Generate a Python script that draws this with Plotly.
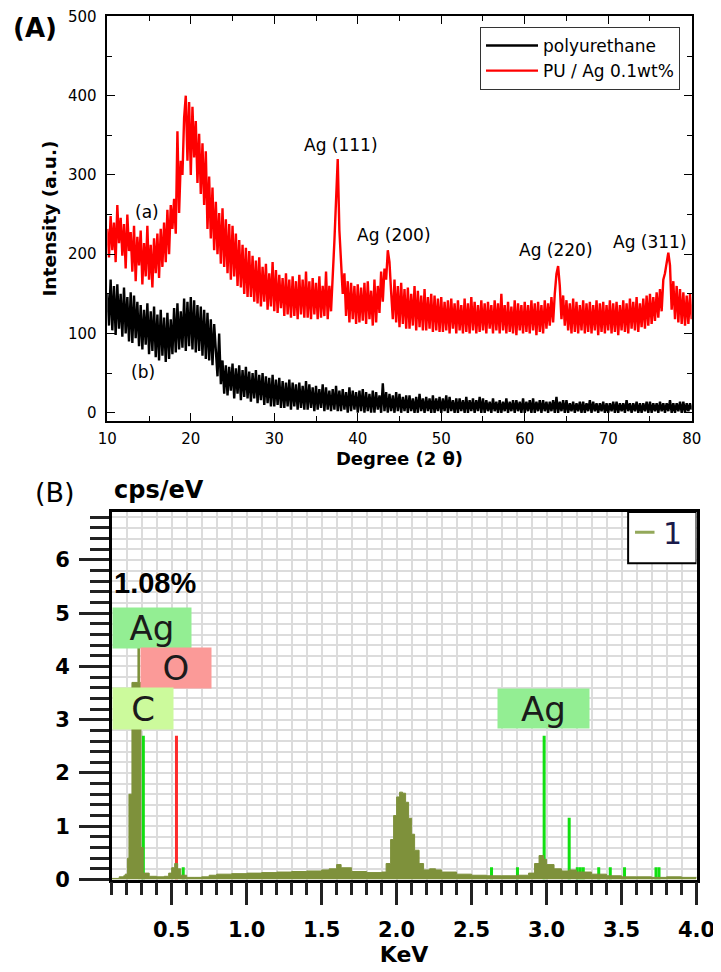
import plotly.graph_objects as go

# ---------------- (A) XRD data ----------------
SCAN_START = 10.0
SCAN_STEP = 0.2
pu_ag = [
    232, 196, 248, 205, 240,  190, 262, 214, 246, 198,  238, 182, 250, 204, 228,
    178, 236, 166, 222, 186,  230, 162, 214, 172, 236,  168, 212, 158, 220, 176,
    226, 170, 232, 184, 240,  190, 256, 200, 262, 232,  270, 226, 355, 252, 318,
    300, 372, 400, 318, 392,  300, 386, 322, 368, 290,  352, 276, 340, 262, 330,
    232, 298, 220, 284, 205,  266, 200, 252, 188, 258,  184, 244, 176, 238, 168,
    236, 172, 226, 160, 218,  158, 212, 150, 208, 146,  204, 146, 198, 140, 192,
    138, 196, 134, 184, 140,  188, 130, 176, 134, 190,  128, 180, 126, 174, 132,
    170, 122, 176, 124, 168,  120, 172, 122, 166, 118,  174, 124, 168, 120, 178,
    120, 166, 118, 170, 124,  164, 118, 172, 120, 160,  122, 178, 118, 160, 128,
    168, 216, 268, 320, 230,  196, 150, 176, 122, 166,  114, 164, 118, 160, 112,
    162, 114, 158, 116, 164,  112, 166, 118, 154, 110,  168, 114, 160, 126, 178,
    140, 182, 168, 205, 190,  152, 118, 168, 114, 160,  108, 164, 112, 156, 106,
    158, 106, 150, 110, 160,  104, 154, 108, 148, 104,  156, 104, 146, 106, 150,
    102, 148, 104, 144, 102,  146, 102, 140, 104, 142,  100, 144, 106, 138, 100,
    142, 104, 136, 100, 144,  102, 138, 100, 146, 104,  140, 100, 136, 102, 142,
    104, 138, 100, 140, 106,  136, 100, 142, 104, 138,  100, 150, 104, 136, 100,
    140, 102, 134, 100, 142,   98, 138, 104, 136, 100,  140, 102, 136, 100, 142,
    104, 138,  98, 140, 102,  136, 100, 142, 106, 138,  110, 146, 114, 150, 175,
    185, 160, 118, 148, 110,  142, 104, 138, 100, 144,  102, 140, 100, 136, 104,
    142, 100, 138, 102, 140,  100, 136, 104, 142,  98,  138, 102, 140, 100, 136,
    104, 142, 100, 138, 102,  140,  98, 136, 104, 142,  102, 138, 100, 144, 106,
    140, 104, 146, 102, 138,  108, 144, 106, 148, 110,  150, 112, 146, 116, 152,
    120, 156, 128, 168, 176,  190, 202, 186, 130, 166,  118, 160, 114, 156, 112,
    152, 110, 148, 112, 150,  118,
]
polyurethane = [
    150, 110, 168, 104, 160,   98, 162, 106, 150,  96,  158, 100, 146,  90, 152,
     88, 148,  94, 140,  84,  136,  80, 130,  86, 138,   74, 128,  78, 134,  70,
    124,  66, 130,  72, 120,   64, 126,  68, 118,  74,  132,  76, 138,  80, 128,
     82, 144,  78, 140,  84,  146,  80, 142,  76, 136,   78, 134,  72, 130,  68,
    126,  66, 118,  60, 112,   84,  46, 100,  36,  66,   24,  60,  22,  58,  28,
     62,  18,  56,  24,  60,   16,  54,  20,  58,  18,   52,  14,  50,  18,  54,
     12,  48,  16,  50,  10,   46,  12,  44,   8,  48,    8,  42,  10,  44,   6,
     40,   6,  38,   8,  42,    4,  38,   8,  36,   4,   38,   6,  34,   4,  40,
      4,  36,   6,  32,   2,   34,   4,  30,   6,  36,    2,  32,   4,  28,   2,
     30,   4,  34,   2,  28,    2,  30,   4,  26,   0,   32,   2,  28,   4,  26,
      0,  28,   2,  30,   0,   26,   2,  24,   0,  28,    0,  26,   4,  22,   0,
     37,   2,  26,   0,  24,    2,  22,   0,  26,   2,   24,   0,  20,   2,  22,
      0,  22,   2,  18,   0,   20,   0,  24,   2,  18,    0,  20,   2,  18,   0,
     22,   0,  18,   2,  20,    0,  18,   2,  22,   0,   20,   2,  16,   0,  18,
      0,  18,   2,  16,   0,   20,   0,  16,   2,  18,    0,  16,   2,  20,   0,
     18,   0,  16,   2,  14,    0,  18,   2,  14,   0,   16,   0,  14,   2,  18,
      0,  14,   2,  16,   0,   16,   2,  14,   0,  18,    0,  14,   2,  16,   0,
     18,   0,  14,   2,  16,    0,  16,   2,  14,   0,   14,   2,  16,   0,  20,
      0,  14,   2,  16,   0,   16,   0,  12,   2,  14,    0,  12,   2,  14,   0,
     14,   0,  12,   2,  16,    0,  14,   2,  12,   0,   12,   2,  14,   0,  12,
      0,  12,   2,  14,   0,   14,   0,  12,   2,  12,    0,  16,   2,  12,   0,
     12,   2,  14,   0,  12,    0,  12,   2,  14,   0,   14,   0,  12,   2,  12,
      0,  14,   2,  12,   0,   12,   2,  16,   0,  12,    0,  12,   2,  14,   0,
     14,   0,  12,   2,  12,    4,
]
two_theta = [round(SCAN_START + SCAN_STEP * i, 1) for i in range(len(pu_ag))]

peak_labels = ["Ag (111)", "Ag (200)", "Ag (220)", "Ag (311)", "(a)", "(b)"]
peak_label_x = [38.05, 44.3, 63.8, 74.95, 14.8, 14.3]
peak_label_y = [338, 224, 205, 216, 253, 51]

# ---------------- (B) EDS data ----------------
energy_kev = [0.10, 0.15, 0.18, 0.19, 0.205, 0.215, 0.235, 0.275, 0.285, 0.295, 0.31,
              0.35, 0.40, 0.45, 0.48, 0.50, 0.52, 0.54, 0.56, 0.60, 0.65, 0.70,
              0.75, 0.80, 0.90, 1.00, 1.10, 1.20, 1.30, 1.40, 1.50, 1.55, 1.60,
              1.63, 1.70, 1.80, 1.90, 1.93, 1.96, 1.98, 2.00, 2.02, 2.04, 2.06,
              2.08, 2.10, 2.12, 2.15, 2.18, 2.22, 2.26, 2.30, 2.40, 2.50, 2.60,
              2.70, 2.80, 2.88, 2.92, 2.95, 2.98, 3.00, 3.05, 3.10, 3.15, 3.20,
              3.30, 3.40, 3.50, 3.60, 3.70, 3.80, 3.90, 4.00]
counts = [0.02, 0.05, 0.07, 0.10, 0.40, 1.60, 3.70, 4.35, 3.70, 0.60, 0.12,
          0.06, 0.05, 0.06, 0.12, 0.22, 0.30, 0.20, 0.08, 0.04, 0.04, 0.05,
          0.08, 0.10, 0.11, 0.12, 0.13, 0.14, 0.15, 0.16, 0.18, 0.20, 0.28,
          0.22, 0.15, 0.13, 0.14, 0.30, 0.75, 1.20, 1.55, 1.64, 1.62, 1.45,
          1.15, 0.85, 0.55, 0.30, 0.18, 0.20, 0.18, 0.14, 0.10, 0.08, 0.07,
          0.07, 0.08, 0.12, 0.30, 0.45, 0.38, 0.28, 0.20, 0.16, 0.18, 0.14,
          0.10, 0.07, 0.05, 0.05, 0.04, 0.05, 0.04, 0.05]

ag_line_kev = [0.311, 0.577, 2.633, 2.806, 2.984, 3.151, 3.205, 3.225, 3.245,
               3.348, 3.425, 3.52, 3.73, 3.75]
ag_line_h = [2.7, 0.23, 0.23, 0.23, 2.7, 1.16, 0.23, 0.23, 0.23,
             0.23, 0.23, 0.23, 0.23, 0.23]
c_line_kev = [0.284]
c_line_h = [2.7]
o_line_kev = [0.532]
o_line_h = [2.7]

OLIVE = "#7e913b"
GREEN = "#11e011"

# The page body has an 8 px margin: lay out in screen pixels and convert.
W, H, OFF = 713, 964, 8


def px(x):
    return (x - OFF) / W


def py(y):
    return 1 - (y - OFF) / H


fig = go.Figure()

# (A)
fig.add_trace(go.Scatter(x=two_theta, y=polyurethane, mode="lines", name="polyurethane",
                         line=dict(color="black", width=2.4), xaxis="x", yaxis="y"))
fig.add_trace(go.Scatter(x=two_theta, y=pu_ag, mode="lines", name="PU / Ag 0.1wt%",
                         line=dict(color="#ff0000", width=2.4), xaxis="x", yaxis="y"))

# (B)
fig.add_trace(go.Scatter(x=energy_kev, y=counts, mode="lines", line=dict(color=OLIVE, width=1, shape="hv"),
                         fill="tozeroy", fillcolor=OLIVE, showlegend=False, xaxis="x2", yaxis="y2"))
fig.add_trace(go.Bar(x=c_line_kev, y=c_line_h, width=0.016, marker=dict(color="#c8f59a", line=dict(width=0)),
                     showlegend=False, xaxis="x2", yaxis="y2"))
fig.add_trace(go.Bar(x=ag_line_kev, y=ag_line_h, width=0.02, marker=dict(color=GREEN, line=dict(width=0)),
                     showlegend=False, xaxis="x2", yaxis="y2"))
fig.add_trace(go.Bar(x=o_line_kev, y=o_line_h, width=0.02, marker=dict(color="#ff2a2a", line=dict(width=0)),
                     showlegend=False, xaxis="x2", yaxis="y2"))

DV = "DejaVu Sans"
axis_a_common = dict(showline=True, linecolor="black", linewidth=1.5, mirror="allticks",
                     ticks="inside", ticklen=8, tickwidth=1.3, tickcolor="black",
                     showgrid=False, zeroline=False, automargin=False, ticklabeloverflow="allow",
                     tickfont=dict(family=DV, size=15, color="black"))

fig.update_layout(
    width=W, height=H,
    margin=dict(l=0, r=0, t=0, b=0, autoexpand=False),
    paper_bgcolor="white", plot_bgcolor="white",
    barmode="overlay",
    showlegend=True,
    legend=dict(x=px(680), y=py(27), xanchor="right", yanchor="top",
                bgcolor="white", bordercolor="#333", borderwidth=1,
                font=dict(family=DV, size=17, color="black"), tracegroupgap=0,
                itemwidth=52),
    xaxis=dict(domain=[px(107.3), px(691.7)], anchor="y", range=[10, 80], dtick=10, tick0=0,
               minor=dict(dtick=5, ticks="inside", ticklen=5, tickwidth=1.2, tickcolor="black"),
               title=dict(text="Degree (2 θ)", font=dict(family=DV, size=18, color="black", weight="bold"),
                          standoff=2),
               ticklabelstandoff=4,
               **axis_a_common),
    yaxis=dict(domain=[py(420.7), py(16.4)], anchor="x", range=[-10, 500], dtick=100, tick0=0,
               minor=dict(dtick=50, ticks="inside", ticklen=5, tickwidth=1.2, tickcolor="black"),
               title=dict(text="Intensity (a.u.)", font=dict(family=DV, size=18.5, color="black", weight="bold"),
                          standoff=6),
               ticklabelstandoff=6,
               **axis_a_common),
    xaxis2=dict(domain=[px(111.7), px(696.5)], anchor="y2", range=[0.1, 4.0], tick0=0, dtick=0.5,
                tickformat=".1f", showline=True, linecolor="black", linewidth=2.5, mirror=True,
                ticks="outside", ticklen=23, tickwidth=3, tickcolor="#222", automargin=False,
                ticklabeloverflow="allow",
                showgrid=True, gridcolor="#dcdcdc", gridwidth=2, zeroline=False,
                minor=dict(dtick=0.1, ticks="outside", ticklen=13, tickwidth=3, tickcolor="#222",
                           showgrid=True, gridcolor="#dcdcdc", gridwidth=2),
                tickfont=dict(family=DV, size=21, color="black", weight="bold"),
                ticklabelstandoff=7,
                title=dict(text="KeV", font=dict(family=DV, size=22, color="black", weight="bold"),
                           standoff=3)),
    yaxis2=dict(domain=[py(879.5), py(512)], anchor="x2", range=[0, 6.9], tick0=0, dtick=1,
                showline=True, linecolor="black", linewidth=2.5, mirror=True,
                ticks="outside", ticklen=30, tickwidth=3, tickcolor="#222", automargin=False,
                ticklabeloverflow="allow",
                showgrid=True, gridcolor="#dcdcdc", gridwidth=2, zeroline=False,
                minor=dict(dtick=0.2, ticks="outside", ticklen=19, tickwidth=3, tickcolor="#222",
                           showgrid=True, gridcolor="#dcdcdc", gridwidth=2),
                tickfont=dict(family=DV, size=21, color="black", weight="bold"),
                ticklabelstandoff=5),
)

# (A) peak labels
for t, x, y in zip(peak_labels, peak_label_x, peak_label_y):
    fig.add_annotation(x=x, y=y, xref="x", yref="y", text=t, showarrow=False,
                       font=dict(family=DV, size=17, color="black"))

# panel letters and unit label
fig.add_annotation(x=px(35), y=py(28), xref="paper", yref="paper", text="(A)", showarrow=False,
                   xanchor="center", yanchor="middle",
                   font=dict(family=DV, size=26, color="black", weight="bold"))
fig.add_annotation(x=px(55), y=py(492), xref="paper", yref="paper", text="(B)", showarrow=False,
                   xanchor="center", yanchor="middle",
                   font=dict(family=DV, size=27, color="black"))
fig.add_annotation(x=px(112), y=py(490), xref="paper", yref="paper", text="cps/eV", showarrow=False,
                   xanchor="left", yanchor="middle",
                   font=dict(family=DV, size=24, color="black", weight="bold"))

# (B) element labels
boxes = [("Ag", 0.1, 5.12, 78, 40, "#93ee93"),
         ("O", 0.289, 4.37, 70, 40, "#fb9a98"),
         ("C", 0.1, 3.61, 60, 41, "#ccfa9c"),
         ("Ag", 2.671, 3.59, 91, 39, "#93ee93")]
for t, x, y, w, h, col in boxes:
    fig.add_annotation(x=x, y=y, xref="x2", yref="y2", xanchor="left", yanchor="top",
                       text=t, showarrow=False, width=w, height=h, bgcolor=col, borderpad=0,
                       align="center", valign="middle",
                       font=dict(family=DV, size=34, color="#1b1b1b"))
fig.add_annotation(x=0.1, y=5.56, xref="x2", yref="y2", xanchor="left", text="1.08%", showarrow=False,
                   font=dict(family="Liberation Sans", size=29, color="black", weight="bold"))

# (B) legend box
fig.add_shape(type="rect", xref="x2", yref="y2", x0=3.544, x1=4.0, y0=5.94, y1=6.9,
              line=dict(color="black", width=2), fillcolor="white", layer="above")
fig.add_shape(type="line", xref="x2", yref="y2", x0=3.59, x1=3.72, y0=6.52, y1=6.52,
              line=dict(color="#93a85a", width=3), layer="above")
fig.add_annotation(x=3.84, y=6.5, xref="x2", yref="y2", text="1", showarrow=False,
                   font=dict(family=DV, size=30, color="#1a1a4a"))

fig.write_html("out.html")
